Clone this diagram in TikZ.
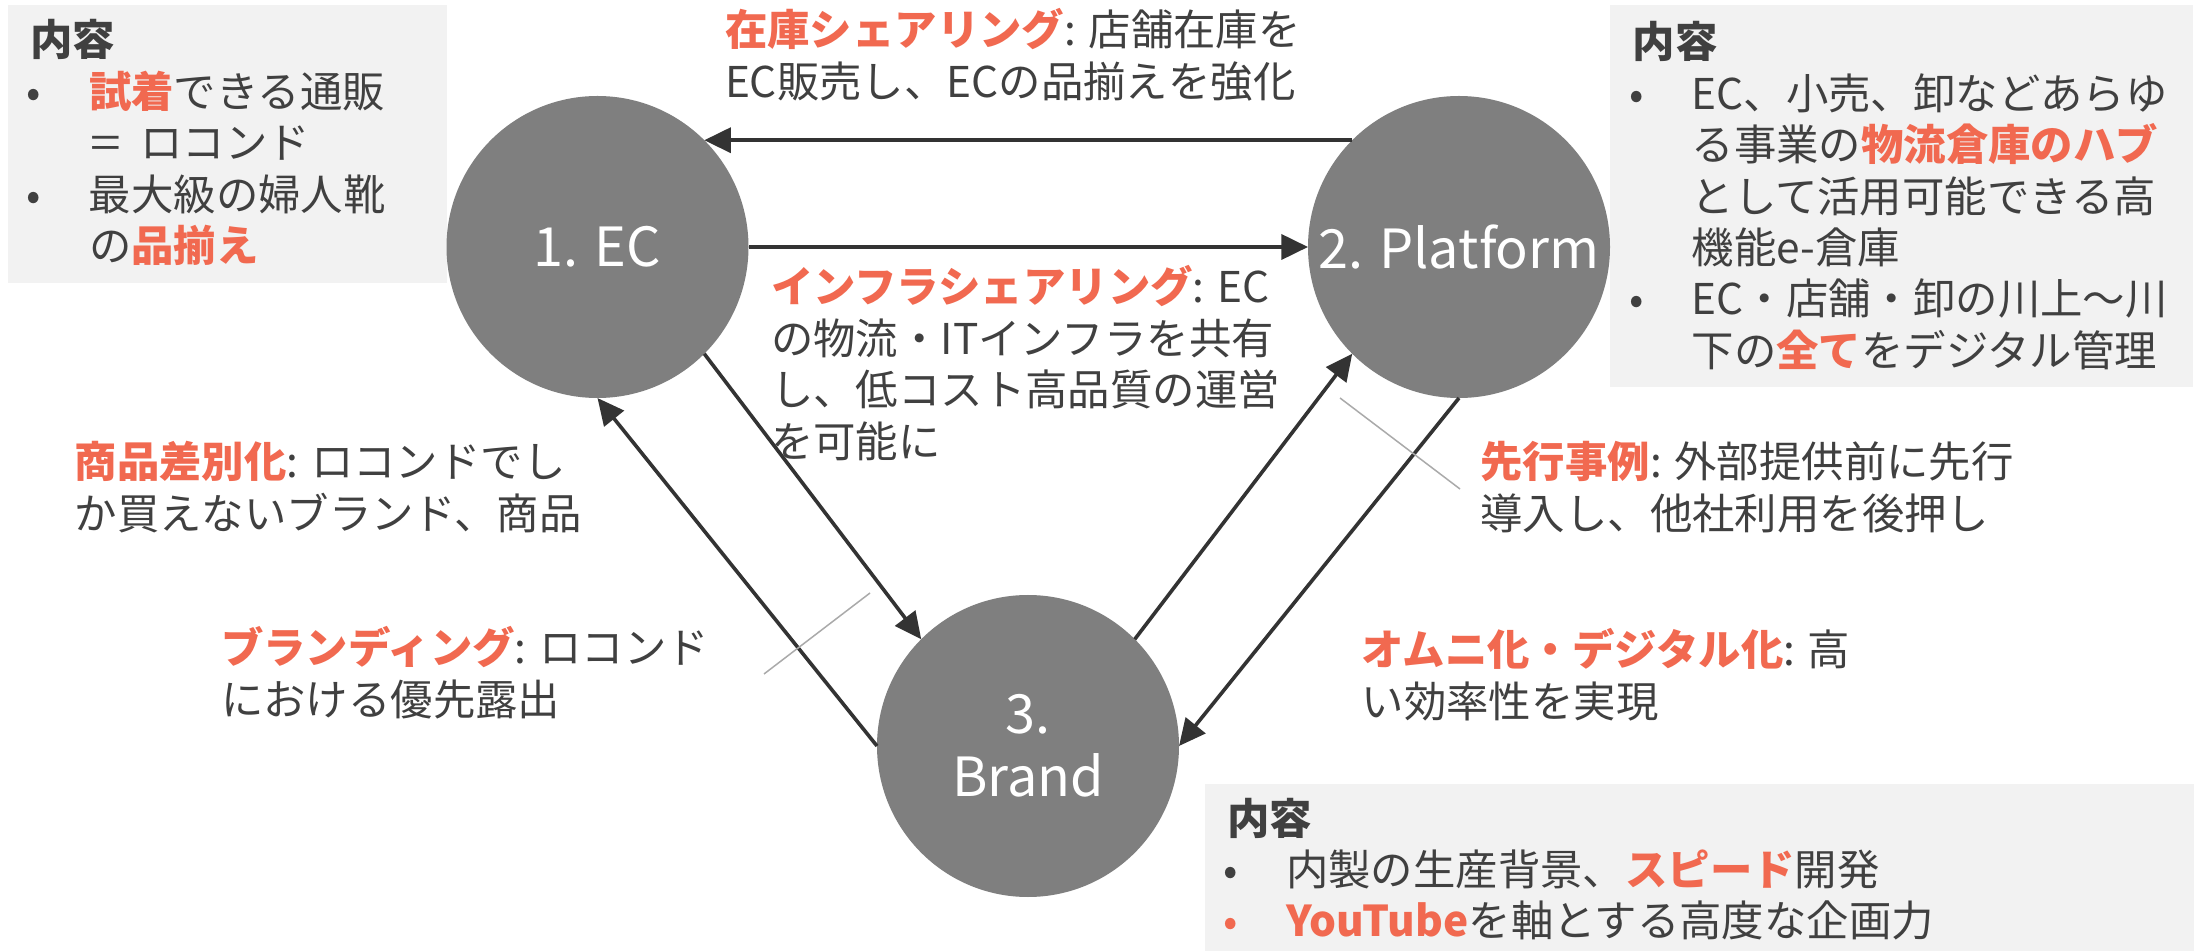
\documentclass[tikz,border=0pt]{standalone}
\usepackage{fontspec}
\setmainfont{Noto Sans CJK JP}
\usetikzlibrary{arrows.meta}
\definecolor{hlcol}{RGB}{241,105,80}
\definecolor{txtcol}{RGB}{64,64,64}
\definecolor{circfill}{RGB}{127,127,127}
\definecolor{boxfill}{RGB}{242,242,242}
\definecolor{arrcol}{RGB}{51,51,51}
\definecolor{tickcol}{RGB}{170,170,170}
\newcommand\txtstack[1]{\vtop{\baselineskip=25.7pt\lineskiplimit=-100pt\lineskip=0pt\let\\\cr\halign{##\hfil\cr#1\crcr}}}
\newcommand\bul{\hbox to 29.5pt{\kern2pt\hbox to 0pt{\hss\textbullet\hss}\hfil}}
\newcommand\nob{\hbox to 29.5pt{\hfil}}
\newcommand\hlt[1]{{\bfseries\color{hlcol}#1}}
\begin{document}
\begin{tikzpicture}[x=0.5pt,y=-0.5pt,
  lbl/.style={anchor=base west, inner sep=0pt, outer sep=0pt, text=txtcol, font=\fontsize{21.2}{25.7}\selectfont},
  bgbox/.style={anchor=north west, fill=boxfill, inner sep=0pt, outer sep=0pt},
  circ/.style={circle, fill=circfill, minimum size=151pt, inner sep=0pt, outer sep=0pt, text=white, align=center, font=\fontsize{27}{31.5}\selectfont},
  conn/.style={draw=arrcol, line width=1.8pt, -{Triangle[length=13.3pt,width=12.5pt]}},
  tickln/.style={draw=tickcol, line width=0.75pt}]
\useasboundingbox (0,0) rectangle (2201,951);
\fill[white] (0,0) rectangle (2201,951);
% background boxes
\node[bgbox, minimum width=219.5pt, minimum height=139pt] (box1) at (8,5) {};
\node[bgbox, minimum width=291.5pt, minimum height=191pt] (box2) at (1610,5) {};
\node[bgbox, minimum width=494.5pt, minimum height=83.5pt] (box3) at (1205,784) {};
% circles
\node[circ] (ec) at (597.5,247) {1. EC};
\node[circ] (pf) at (1459,247) {2. Platform};
\node[circ] (br) at (1028,746) {3.\\Brand};
% connectors
\draw[conn] (pf.135) -- (ec.45);
\draw[conn] (ec.east) -- (pf.west);
\draw[conn] (ec.-45) -- (br.135);
\draw[conn] (br.west) -- (ec.south);
\draw[conn] (br.45) -- (pf.-135);
\draw[conn] (pf.south) -- (br.east);
% ticks
\coordinate (t1a) at (870,593);
\coordinate (t1b) at (764,674);
\coordinate (t2a) at (1340,398);
\coordinate (t2b) at (1460,489);
\draw[tickln] (t1a) -- (t1b);
\draw[tickln] (t2a) -- (t2b);
% box texts
\node[lbl] (box1text) at (30,56) {\txtstack{\bfseries 内容\\\bul\hlt{試着}できる通販\\\nob\kern0.5pt\scalebox{1.3}[1]{=}\kern10pt ロコンド\\\bul 最大級の婦人靴\\\nob の\hlt{品揃え}}};
\node[lbl] (box2text) at (1632.6,58) {\txtstack{\bfseries 内容\\\bul EC、小売、卸などあらゆ\\\nob る事業の\hlt{物流倉庫のハブ}\\\nob として活用可能できる高\\\nob 機能e-倉庫\\\bul EC・店舗・卸の川上〜川\\\nob 下の\hlt{全て}をデジタル管理}};
\node[lbl] (box3text) at (1227,834) {\txtstack{\bfseries 内容\\\bul 内製の生産背景、\hlt{スピード}開発\\{\color{hlcol}\bul}\hlt{YouTube}を軸とする高度な企画力}};
% connector labels
\node[lbl] (stock) at (725,46) {\txtstack{\hlt{在庫シェアリング}: 店舗在庫を\\EC販売し、ECの品揃えを強化}};
\node[lbl] (infra) at (771,303) {\txtstack{\hlt{インフラシェアリング}: EC\\の物流・ITインフラを共有\\し、低コスト高品質の運営\\を可能に}};
\node[lbl] (diff) at (74.6,478) {\txtstack{\hlt{商品差別化}: ロコンドでし\\か買えないブランド、商品}};
\node[lbl] (brandg) at (221,664) {\txtstack{\hlt{ブランディング}: ロコンド\\における優先露出}};
\node[lbl] (prec) at (1480.5,478) {\txtstack{\hlt{先行事例}: 外部提供前に先行\\導入し、他社利用を後押し}};
\node[lbl] (omni) at (1361.6,666) {\txtstack{\hlt{オムニ化・デジタル化}: 高\\い効率性を実現}};
\end{tikzpicture}
\end{document}
